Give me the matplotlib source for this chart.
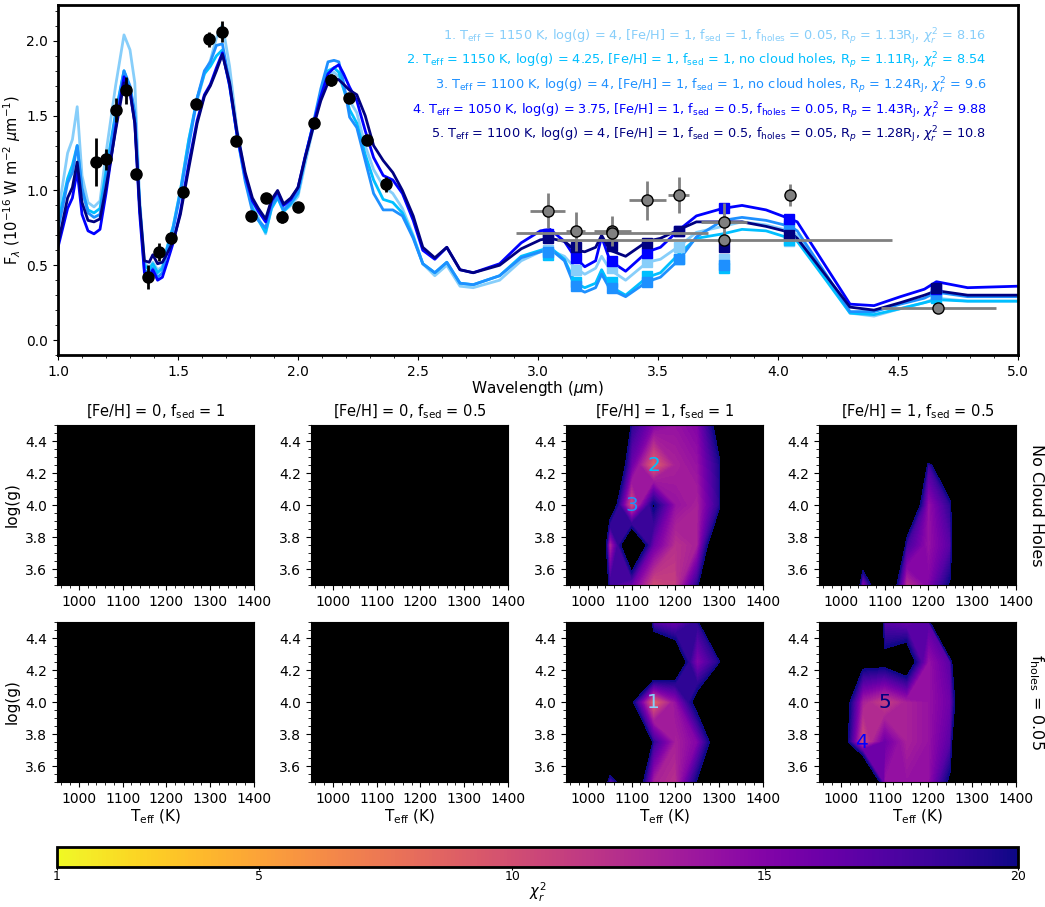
import numpy as np
import matplotlib
matplotlib.use('Agg')
import matplotlib.pyplot as plt
from matplotlib.ticker import MultipleLocator, AutoMinorLocator
from matplotlib import cm, colors

# ---------------- spectrum data ----------------
lam = [1.00, 1.04, 1.06, 1.08, 1.10, 1.125, 1.15, 1.175, 1.20, 1.24, 1.275, 1.30, 1.32, 1.34,
       1.36, 1.38, 1.395, 1.415, 1.435, 1.455, 1.48, 1.51, 1.545, 1.58, 1.61, 1.635, 1.66,
       1.685, 1.715, 1.745, 1.78, 1.81, 1.835, 1.865, 1.89, 1.915, 1.94, 1.97, 2.00, 2.03,
       2.065, 2.095, 2.125, 2.15, 2.17, 2.19, 2.215, 2.245, 2.28, 2.315, 2.355, 2.395, 2.435,
       2.48, 2.52, 2.57, 2.62, 2.675, 2.73, 2.84, 2.93, 3.01, 3.05, 3.11, 3.155, 3.195, 3.24,
       3.265, 3.30, 3.365, 3.455, 3.51, 3.59, 3.66, 3.77, 3.85, 3.95, 4.05, 4.08, 4.20, 4.30,
       4.40, 4.51, 4.61, 4.66, 4.79, 5.00]

mod1 = [0.84, 1.25, 1.34, 1.56, 1.10, 0.92, 0.89, 0.93, 1.25, 1.70, 2.04, 1.94, 1.72, 0.95,
        0.52, 0.48, 0.52, 0.47, 0.49, 0.62, 0.76, 1.00, 1.34, 1.60, 1.78, 1.87, 2.02,
        2.11, 1.83, 1.42, 1.10, 0.90, 0.82, 0.71, 0.89, 0.96, 0.86, 0.90, 0.96, 1.18,
        1.43, 1.62, 1.77, 1.79, 1.76, 1.68, 1.60, 1.52, 1.30, 1.14, 1.03, 0.98, 0.88,
        0.70, 0.51, 0.43, 0.50, 0.36, 0.35, 0.40, 0.53, 0.59, 0.60, 0.56, 0.48, 0.44, 0.48,
        0.56, 0.47, 0.40, 0.52, 0.54, 0.63, 0.72, 0.76, 0.79, 0.77, 0.73, 0.70, 0.42, 0.18,
        0.16, 0.21, 0.25, 0.28, 0.26, 0.26]
mod2 = [0.78, 1.08, 1.17, 1.30, 1.00, 0.87, 0.85, 0.88, 1.13, 1.52, 1.80, 1.68, 1.50, 0.90,
        0.50, 0.47, 0.51, 0.45, 0.48, 0.62, 0.76, 1.00, 1.34, 1.62, 1.78, 1.83, 1.90,
        1.94, 1.70, 1.38, 1.08, 0.88, 0.80, 0.72, 0.88, 0.95, 0.86, 0.91, 0.98, 1.22,
        1.45, 1.65, 1.80, 1.82, 1.79, 1.68, 1.54, 1.45, 1.24, 1.07, 0.94, 0.92, 0.85,
        0.69, 0.51, 0.45, 0.52, 0.38, 0.37, 0.43, 0.56, 0.60, 0.62, 0.54, 0.38, 0.35, 0.38,
        0.47, 0.36, 0.30, 0.42, 0.45, 0.58, 0.68, 0.71, 0.74, 0.73, 0.68, 0.66, 0.40, 0.18,
        0.17, 0.21, 0.25, 0.27, 0.26, 0.26]
mod3 = [0.74, 1.05, 1.12, 1.30, 1.02, 0.85, 0.82, 0.84, 1.08, 1.50, 1.80, 1.70, 1.52, 0.90,
        0.47, 0.44, 0.48, 0.42, 0.45, 0.60, 0.74, 0.98, 1.30, 1.62, 1.80, 1.86, 1.97,
        1.98, 1.72, 1.38, 1.06, 0.86, 0.80, 0.75, 0.90, 0.96, 0.87, 0.92, 0.99, 1.22,
        1.46, 1.68, 1.86, 1.87, 1.86, 1.72, 1.49, 1.42, 1.20, 0.98, 0.87, 0.87, 0.83,
        0.68, 0.51, 0.45, 0.52, 0.38, 0.37, 0.43, 0.55, 0.59, 0.61, 0.53, 0.35, 0.32, 0.35,
        0.44, 0.34, 0.29, 0.39, 0.42, 0.54, 0.69, 0.80, 0.82, 0.80, 0.76, 0.73, 0.44, 0.19,
        0.19, 0.24, 0.28, 0.32, 0.29, 0.29]
mod4 = [0.62, 0.88, 0.95, 1.13, 0.84, 0.73, 0.71, 0.74, 0.98, 1.42, 1.76, 1.66, 1.45, 0.85,
        0.45, 0.42, 0.47, 0.40, 0.42, 0.52, 0.65, 0.86, 1.18, 1.47, 1.64, 1.71, 1.82,
        1.92, 1.70, 1.38, 1.10, 0.93, 0.86, 0.79, 0.93, 0.99, 0.90, 0.94, 1.02, 1.23,
        1.45, 1.63, 1.78, 1.82, 1.84, 1.78, 1.69, 1.60, 1.40, 1.22, 1.10, 1.07, 0.98,
        0.80, 0.60, 0.54, 0.62, 0.47, 0.45, 0.51, 0.65, 0.73, 0.74, 0.66, 0.55, 0.49, 0.53,
        0.69, 0.53, 0.46, 0.59, 0.62, 0.74, 0.83, 0.88, 0.90, 0.87, 0.81, 0.79, 0.49, 0.24,
        0.23, 0.29, 0.34, 0.39, 0.35, 0.36]
mod5 = [0.64, 0.95, 1.02, 1.19, 0.92, 0.80, 0.79, 0.81, 1.02, 1.40, 1.72, 1.66, 1.45, 0.90,
        0.53, 0.52, 0.57, 0.51, 0.52, 0.58, 0.66, 0.84, 1.15, 1.45, 1.63, 1.70, 1.80,
        1.91, 1.72, 1.40, 1.12, 0.95, 0.88, 0.81, 0.94, 1.00, 0.91, 0.95, 1.02, 1.22,
        1.43, 1.60, 1.72, 1.75, 1.74, 1.71, 1.67, 1.64, 1.50, 1.30, 1.20, 1.12, 1.00,
        0.83, 0.62, 0.55, 0.62, 0.47, 0.45, 0.50, 0.61, 0.67, 0.68, 0.66, 0.60, 0.59, 0.62,
        0.70, 0.60, 0.56, 0.66, 0.68, 0.74, 0.79, 0.79, 0.79, 0.76, 0.72, 0.68, 0.43, 0.22,
        0.20, 0.25, 0.30, 0.33, 0.30, 0.30]

# model photometry (squares)
phot_lam = [3.04, 3.157, 3.307, 3.455, 3.586, 3.775, 4.044, 4.658]
phot1 = [0.60, 0.47, 0.48, 0.52, 0.62, 0.54, 0.66, 0.30]
phot2 = [0.57, 0.39, 0.39, 0.43, 0.54, 0.48, 0.67, 0.28]
phot3 = [0.59, 0.36, 0.35, 0.39, 0.54, 0.50, 0.76, 0.31]
phot4 = [0.71, 0.55, 0.53, 0.58, 0.73, 0.88, 0.81, 0.34]
phot5 = [0.68, 0.62, 0.63, 0.65, 0.73, 0.62, 0.70, 0.35]

# observed spectrum (black) and photometry (grey)
obs_lam = [1.158, 1.200, 1.240, 1.283, 1.326, 1.374, 1.422, 1.471, 1.520, 1.575, 1.628,
           1.685, 1.743, 1.804, 1.865, 1.932, 1.999, 2.065, 2.138, 2.213, 2.289, 2.367]
obs_f = [1.19, 1.21, 1.54, 1.67, 1.11, 0.42, 0.59, 0.68, 0.99, 1.58, 2.01,
         2.06, 1.33, 0.83, 0.95, 0.82, 0.89, 1.45, 1.74, 1.62, 1.34, 1.04]
obs_err = [0.16, 0.07, 0.08, 0.09, 0.02, 0.08, 0.06, 0.04, 0.03, 0.03, 0.05,
           0.07, 0.03, 0.02, 0.03, 0.04, 0.02, 0.02, 0.04, 0.03, 0.03, 0.05]

grey_lam = [3.04, 3.157, 3.31, 3.31, 3.455, 3.586, 3.775, 3.776, 4.05, 4.668]
grey_f = [0.866, 0.727, 0.727, 0.716, 0.933, 0.971, 0.787, 0.671, 0.971, 0.216]
grey_xerr = [0.074, 0.04, 0.077, 0.40, 0.078, 0.045, 0.097, 0.698, 0.0, 0.24]
grey_yerr = [0.117, 0.13, 0.10, 0.0, 0.128, 0.12, 0.13, 0.0, 0.075, 0.0]

model_colors = ['lightskyblue', 'deepskyblue', 'dodgerblue', 'blue', 'navy']
model_labels = [
    r'1. T$_{\rm eff}$ = 1150 K, log(g) = 4, [Fe/H] = 1, f$_{\rm sed}$ = 1, f$_{\rm holes}$ = 0.05, R$_p$ = 1.13R$_{\rm J}$, $\chi^2_r$ = 8.16',
    r'2. T$_{\rm eff}$ = 1150 K, log(g) = 4.25, [Fe/H] = 1, f$_{\rm sed}$ = 1, no cloud holes, R$_p$ = 1.11R$_{\rm J}$, $\chi^2_r$ = 8.54',
    r'3. T$_{\rm eff}$ = 1100 K, log(g) = 4, [Fe/H] = 1, f$_{\rm sed}$ = 1, no cloud holes, R$_p$ = 1.24R$_{\rm J}$, $\chi^2_r$ = 9.6',
    r'4. T$_{\rm eff}$ = 1050 K, log(g) = 3.75, [Fe/H] = 1, f$_{\rm sed}$ = 0.5, f$_{\rm holes}$ = 0.05, R$_p$ = 1.43R$_{\rm J}$, $\chi^2_r$ = 9.88',
    r'5. T$_{\rm eff}$ = 1100 K, log(g) = 4, [Fe/H] = 1, f$_{\rm sed}$ = 0.5, f$_{\rm holes}$ = 0.05, R$_p$ = 1.28R$_{\rm J}$, $\chi^2_r$ = 10.8',
]

# ---------------- chi^2 grids ----------------
teff = [1000, 1050, 1100, 1150, 1200, 1250, 1300, 1350, 1400]
logg = [3.5, 3.75, 4.0, 4.25, 4.5]

# [Fe/H] = 1, fsed = 1, no cloud holes
chi_fe1_f1_nh = [[60, 18, 16, 10, 11, 19, 40, 60, 60],
                 [60, 12, 28, 16, 12, 13, 28, 60, 60],
                 [60, 25, 9.6, 20.5, 14, 13, 19, 60, 60],
                 [60, 30, 16, 8.54, 13, 14, 19.5, 60, 60],
                 [60, 60, 19, 15, 14, 15, 22, 60, 60]]
# [Fe/H] = 1, fsed = 0.5, no cloud holes
chi_fe1_f05_nh = [[60, 14, 30, 12, 15, 20.5, 60, 60, 60],
                  [60, 30, 60, 18, 14, 17, 60, 60, 60],
                  [60, 60, 60, 30, 14, 19, 60, 60, 60],
                  [60, 60, 60, 60, 18, 30, 60, 60, 60],
                  [60, 60, 60, 60, 60, 60, 60, 60, 60]]
# [Fe/H] = 1, fsed = 1, fholes = 0.05
chi_fe1_f1_h = [[60, 16, 28, 13, 12, 20.5, 60, 60, 60],
                [60, 40, 60, 18.5, 13, 15, 24, 60, 60],
                [60, 60, 21, 8.16, 14, 22, 60, 60, 60],
                [60, 60, 60, 30, 25, 15, 19.5, 60, 60],
                [60, 60, 60, 17, 16, 19, 40, 60, 60]]
# [Fe/H] = 1, fsed = 0.5, fholes = 0.05
chi_fe1_f05_h = [[60, 40, 14, 14, 14, 21, 60, 60, 60],
                 [25, 9.88, 16, 13, 14, 17, 60, 60, 60],
                 [25, 13, 10.8, 13, 14, 16, 35, 60, 60],
                 [60, 21.5, 21.5, 24, 14, 17, 60, 60, 60],
                 [60, 60, 17, 16, 17, 60, 60, 60, 60]]

best_models = [  # (row, col, Teff, logg, label)
    (1, 2, 1150, 4.0, '1'),
    (0, 2, 1150, 4.25, '2'),
    (0, 2, 1100, 4.0, '3'),
    (1, 3, 1050, 3.75, '4'),
    (1, 3, 1100, 4.0, '5'),
]

panel_titles = [r'[Fe/H] = 0, f$_{\rm sed}$ = 1', r'[Fe/H] = 0, f$_{\rm sed}$ = 0.5',
                r'[Fe/H] = 1, f$_{\rm sed}$ = 1', r'[Fe/H] = 1, f$_{\rm sed}$ = 0.5']
row_labels = ['No Cloud Holes', r'f$_{\rm holes}$ = 0.05']

# ---------------- figure ----------------
fig = plt.figure(figsize=(10.45, 9.07), dpi=100)

ax = fig.add_axes([0.0555, 0.6086, 0.9187, 0.3859])
mods = [mod1, mod2, mod3, mod4, mod5]
phots = [phot1, phot2, phot3, phot4, phot5]
for m, c in zip(mods, model_colors):
    ax.plot(lam, m, color=c, lw=2, zorder=2)
for p, c in zip(phots, model_colors):
    ax.plot(phot_lam, p, 's', color=c, ms=7, zorder=3)

ax.errorbar(obs_lam, obs_f, yerr=obs_err, fmt='o', color='black', ms=8,
            elinewidth=2, capsize=0, zorder=5)
ax.errorbar(grey_lam, grey_f, xerr=grey_xerr, yerr=grey_yerr, fmt='o', color='grey',
            mfc='grey', mec='black', ms=8, elinewidth=2, capsize=0, zorder=4)

for i, (txt, c) in enumerate(zip(model_labels, model_colors)):
    ax.text(4.867, 2.03 - 0.165 * i, txt, color=c, fontsize=9.3, ha='right', va='center')

ax.set_xlim(1.0, 5.0)
ax.set_ylim(-0.1, 2.24)
ax.xaxis.set_major_locator(MultipleLocator(0.5))
ax.yaxis.set_major_locator(MultipleLocator(0.5))
ax.xaxis.set_minor_locator(MultipleLocator(0.1))
ax.yaxis.set_minor_locator(MultipleLocator(0.1))
ax.tick_params(labelsize=10)
ax.set_xlabel(r'Wavelength ($\mu$m)', fontsize=11, labelpad=0)
ax.set_ylabel(r'F$_\lambda$ (10$^{-16}$ W m$^{-2}$ $\mu$m$^{-1}$)', fontsize=10.5, labelpad=2)
for s in ax.spines.values():
    s.set_linewidth(2)

# chi^2 maps
grids = {(0, 2): chi_fe1_f1_nh, (0, 3): chi_fe1_f05_nh,
         (1, 2): chi_fe1_f1_h, (1, 3): chi_fe1_f05_h}
levels = np.linspace(1, 20, 80)
col_x = [0.0545, 0.2976, 0.5416, 0.7837]
row_y = [0.355, 0.1378]
pw, ph = 0.1885, 0.1764
axes = {}
for r in range(2):
    for c in range(4):
        a = fig.add_axes([col_x[c], row_y[r], pw, ph])
        a.set_facecolor('black')
        if (r, c) in grids:
            a.contourf(teff, logg, grids[(r, c)], levels=levels, cmap='plasma_r')
        a.set_xlim(950, 1400)
        a.set_ylim(3.5, 4.5)
        a.xaxis.set_major_locator(MultipleLocator(100))
        a.yaxis.set_major_locator(MultipleLocator(0.2))
        a.xaxis.set_minor_locator(AutoMinorLocator())
        a.yaxis.set_minor_locator(AutoMinorLocator())
        a.tick_params(labelsize=10)
        if r == 0:
            a.set_title(panel_titles[c], fontsize=10.5)
        else:
            a.set_xlabel(r'T$_{\rm eff}$ (K)', fontsize=11, labelpad=1)
        if c == 0:
            a.set_ylabel('log(g)', fontsize=11)
        if c == 3:
            a.text(1.105, 0.5, row_labels[r], transform=a.transAxes, rotation=-90,
                   ha='center', va='center', fontsize=11.5)
        axes[(r, c)] = a

for r, c, t, g, lab in best_models:
    axes[(r, c)].text(t, g, lab, color=model_colors[int(lab) - 1], fontsize=14.5,
                      ha='center', va='center')

cax = fig.add_axes([0.0545, 0.0445, 0.9196, 0.022])
sm = cm.ScalarMappable(norm=colors.Normalize(1, 20), cmap='plasma_r')
cb = fig.colorbar(sm, cax=cax, orientation='horizontal', ticks=[1, 5, 10, 15, 20])
cb.outline.set_linewidth(2)
cb.ax.tick_params(labelsize=9, length=2, pad=0.5)
cb.set_label(r'$\chi^2_r$', fontsize=10.5, labelpad=-2)

fig.savefig('out.png', dpi=100)
